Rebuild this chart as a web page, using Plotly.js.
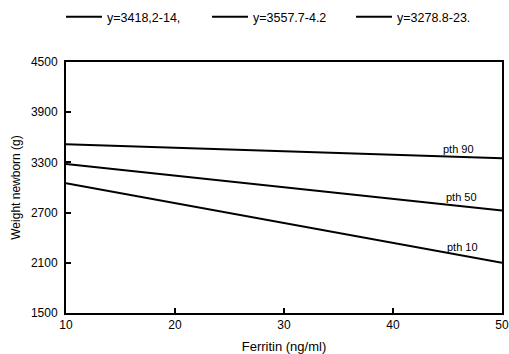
<!DOCTYPE html>
<html>
<head>
<meta charset="utf-8">
<script src="https://cdn.plot.ly/plotly-3.0.1.min.js"></script>
<style>html,body{margin:0;padding:0;background:#fff;}#chart{width:509px;height:354px;}</style>
</head>
<body>
<div id="chart"></div>
<script>
const ferritin = [10, 50];
const seriesNames = ["y=3418,2-14,", "y=3557.7-4.2", "y=3278.8-23."];
const pth50 = [3280, 2725];
const pth90 = [3518, 3350];
const pth10 = [3050, 2100];
const lineLabels = ["pth 90", "pth 50", "pth 10"];
const labelX = [46.0, 46.3, 46.4];
const labelY = [3455, 2890, 2290];
const yTicks = [1500, 2100, 2700, 3300, 3900, 4500];
const xTicks = [10, 20, 30, 40, 50];

const FONT = "Liberation Sans, Arial, sans-serif";
const lineStyle = {color: "#000", width: 2};
const traces = [
  {x: ferritin, y: pth50, name: seriesNames[0], mode: "lines", line: lineStyle, legend: "legend"},
  {x: ferritin, y: pth90, name: seriesNames[1], mode: "lines", line: lineStyle, legend: "legend2"},
  {x: ferritin, y: pth10, name: seriesNames[2], mode: "lines", line: lineStyle, legend: "legend3"}
];

const annotations = lineLabels.map((t, i) => ({
  x: labelX[i], y: labelY[i], xref: "x", yref: "y", text: t, showarrow: false,
  xanchor: "center", yanchor: "middle",
  font: {family: FONT, size: 11, color: "#000"}
}));

function legendAt(px) {
  return {
    orientation: "h", x: (px - 66 - 5) / 436, xanchor: "left",
    y: 1.179, yanchor: "middle",
    font: {size: 12.5}, itemwidth: 36, bgcolor: "rgba(0,0,0,0)", borderwidth: 0
  };
}

const layout = {
  width: 509, height: 354,
  margin: {l: 66, r: 7, t: 62, b: 41, autoexpand: false},
  paper_bgcolor: "#fff", plot_bgcolor: "#fff",
  font: {family: FONT, size: 11, color: "#000"},
  showlegend: true,
  legend: legendAt(66),
  legend2: legendAt(212),
  legend3: legendAt(356),
  xaxis: {
    range: [10, 50], tickvals: xTicks, ticktext: xTicks.map(String),
    showgrid: false, zeroline: false, showline: true, linecolor: "#000", linewidth: 2,
    mirror: true, ticks: "inside", ticklen: 5, tickwidth: 2, tickcolor: "#000",
    tickfont: {size: 12},
    title: {text: "Ferritin (ng/ml)", font: {size: 13}, standoff: 13}
  },
  yaxis: {
    range: [1500, 4500], tickvals: yTicks, ticktext: yTicks.map(String),
    showgrid: false, zeroline: false, showline: true, linecolor: "#000", linewidth: 2,
    mirror: true, ticks: "inside", ticklen: 5, tickwidth: 2, tickcolor: "#000",
    tickfont: {size: 12}, ticklabelstandoff: 4,
    title: {text: "Weight newborn (g)", font: {size: 12}, standoff: 8}
  },
  annotations: annotations
};

Plotly.newPlot("chart", traces, layout, {displayModeBar: false, staticPlot: true});
</script>
</body>
</html>
